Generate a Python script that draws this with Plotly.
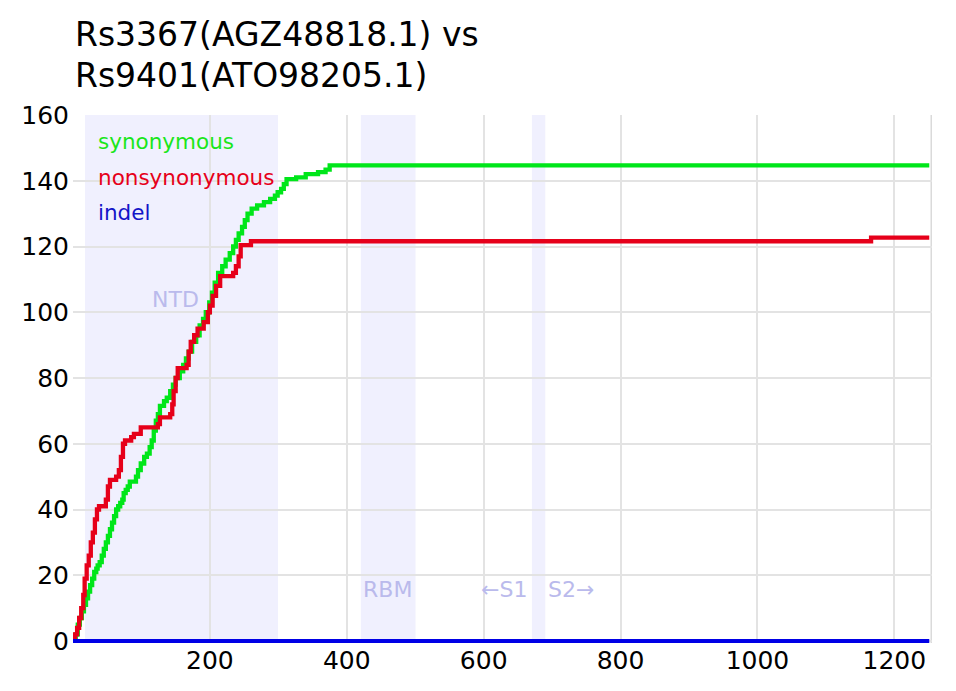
import plotly.graph_objects as go

# ---- data ----
syn_x = [0, 4, 7, 10, 13, 16, 19, 22, 25, 28, 31, 34, 36, 39, 42, 45, 48, 51, 54, 57, 60, 63, 66, 69, 72,
         74, 77, 80, 83, 92, 95, 99, 104, 108, 112, 115, 118, 121, 124, 127, 133, 137, 142, 146, 150, 156,
         161, 165, 169, 174, 180, 185, 190, 194, 199, 203, 207, 212, 218, 223, 229, 234, 238, 242, 247, 251,
         255, 261, 269, 279, 288, 295, 299, 304, 308, 312, 326, 340, 358, 369, 375, 1251]
syn_y = [0, 2, 5, 7, 9, 11, 13, 15, 17, 19, 21, 22, 23, 24, 26, 28, 30, 32, 34, 36, 38, 40, 41, 42, 43,
         45, 46, 47, 48.5, 50, 52, 54, 56, 57, 59, 61, 64, 67, 69, 71.5, 73, 74, 76, 78, 80, 82,
         84, 86, 88, 91, 93, 96, 98, 100, 103, 106, 109, 112, 114, 116, 118, 120, 122, 124, 126, 128,
         130, 131.5, 132.5, 133.5, 134.5, 135.5, 136.5, 137.5, 139, 140.5, 141, 142, 142.6, 143.4, 144.7, 144.7]

nonsyn_x = [0, 3, 6, 9, 12, 15, 17, 20, 23, 26, 29, 32, 35, 38, 48, 51, 54, 63, 67, 70, 73, 76, 85, 89, 99,
            124, 127, 142, 145, 147, 150, 153, 166, 169, 172, 177, 182, 191, 197, 200, 204, 209, 215, 234,
            238, 242, 245, 260, 1166, 1251]
nonsyn_y = [0, 2, 4, 7, 10, 14, 19, 23, 26, 30, 33, 37, 40, 41, 43, 47, 49, 50, 52, 56, 60, 61, 62, 63, 65,
            66, 68, 69, 72, 76, 80, 83, 84, 88, 91, 93, 95, 97, 100, 102, 105, 108, 111, 112,
            114, 117, 120.4, 121.6, 122.7, 122.7]

indel_x = [0, 1251]
indel_y = [0, 0]

series_names = ["synonymous", "nonsynonymous", "indel"]
series_colors = ["#00e61a", "#e6001a", "#0000e6"]
label_colors = ["#1ae61a", "#e6001a", "#1414c8"]

regions = [("NTD", 17.5, 299.5), ("RBM", 420.5, 500.5), ("", 670.5, 690)]
region_labels = [("NTD", 150, 104), ("RBM", 460, 15.8), ("\u2190S1", 630, 15.8), ("S2\u2192", 727, 15.8)]

x_ticks = [200, 400, 600, 800, 1000, 1200]
y_ticks = [0, 20, 40, 60, 80, 100, 120, 140, 160]
x_range = [0, 1255]
y_range = [-0.6, 160]
seq_end = 1255

title_line1 = "Rs3367(AGZ48818.1) vs"
title_line2 = "Rs9401(ATO98205.1)"

# ---- figure ----
# page body has an 8px margin, so the figure is 8px smaller than the window on each axis
W, H = 948, 683

fig = go.Figure()
for name, xs, ys, col in zip(series_names, [syn_x, nonsyn_x, indel_x], [syn_y, nonsyn_y, indel_y], series_colors):
    fig.add_trace(go.Scatter(x=xs, y=ys, mode="lines", name=name,
                             line=dict(color=col, width=4.3, shape="hv"), showlegend=False))

for name, x0, x1 in regions:
    fig.add_shape(type="rect", xref="x", yref="paper", x0=x0, x1=x1, y0=0, y1=1,
                  fillcolor="rgba(0,0,230,0.06)", line_width=0, layer="below")

fig.add_shape(type="line", xref="x", yref="paper", x0=seq_end, x1=seq_end, y0=0, y1=1,
              line=dict(color="#dadada", width=3), layer="below")

for txt, x, y in region_labels:
    fig.add_annotation(x=x, y=y, xref="x", yref="y", text=txt, showarrow=False,
                       font=dict(size=22, color="#babaec"), xanchor="center", yanchor="middle")

leg_y = [0.949, 0.882, 0.815]
for name, col, yy in zip(series_names, label_colors, leg_y):
    fig.add_annotation(x=0.027, y=yy, xref="paper", yref="paper", text=name, showarrow=False,
                       font=dict(size=21.5, color=col), xanchor="left", yanchor="middle")

# second title line
fig.add_annotation(x=0.0, y=1.034, xref="paper", yref="paper",
                   text=title_line2, showarrow=False, xanchor="left", yanchor="bottom",
                   font=dict(size=33, family="DejaVu Sans", color="black"))

fig.update_layout(
    width=W, height=H,
    margin=dict(l=65, r=24, t=107, b=48),
    paper_bgcolor="white", plot_bgcolor="white",
    font=dict(family="DejaVu Sans", size=25, color="black"),
    title=dict(text=title_line1, x=67 / W, xanchor="left", xref="container",
               y=0.945, yanchor="bottom", yref="container",
               font=dict(size=33, family="DejaVu Sans", color="black")),
    xaxis=dict(range=x_range, tickvals=x_ticks, showgrid=True, gridcolor="#e3e3e3", gridwidth=2,
               zeroline=False, showline=False, ticks="", tickfont=dict(size=25), ticklabelstandoff=0),
    yaxis=dict(range=y_range, tickvals=y_ticks, showgrid=True, gridcolor="#e3e3e3", gridwidth=2,
               zeroline=False, showline=False, ticks="", tickfont=dict(size=25), ticklabelstandoff=3),
)

fig.write_html("out.html")
